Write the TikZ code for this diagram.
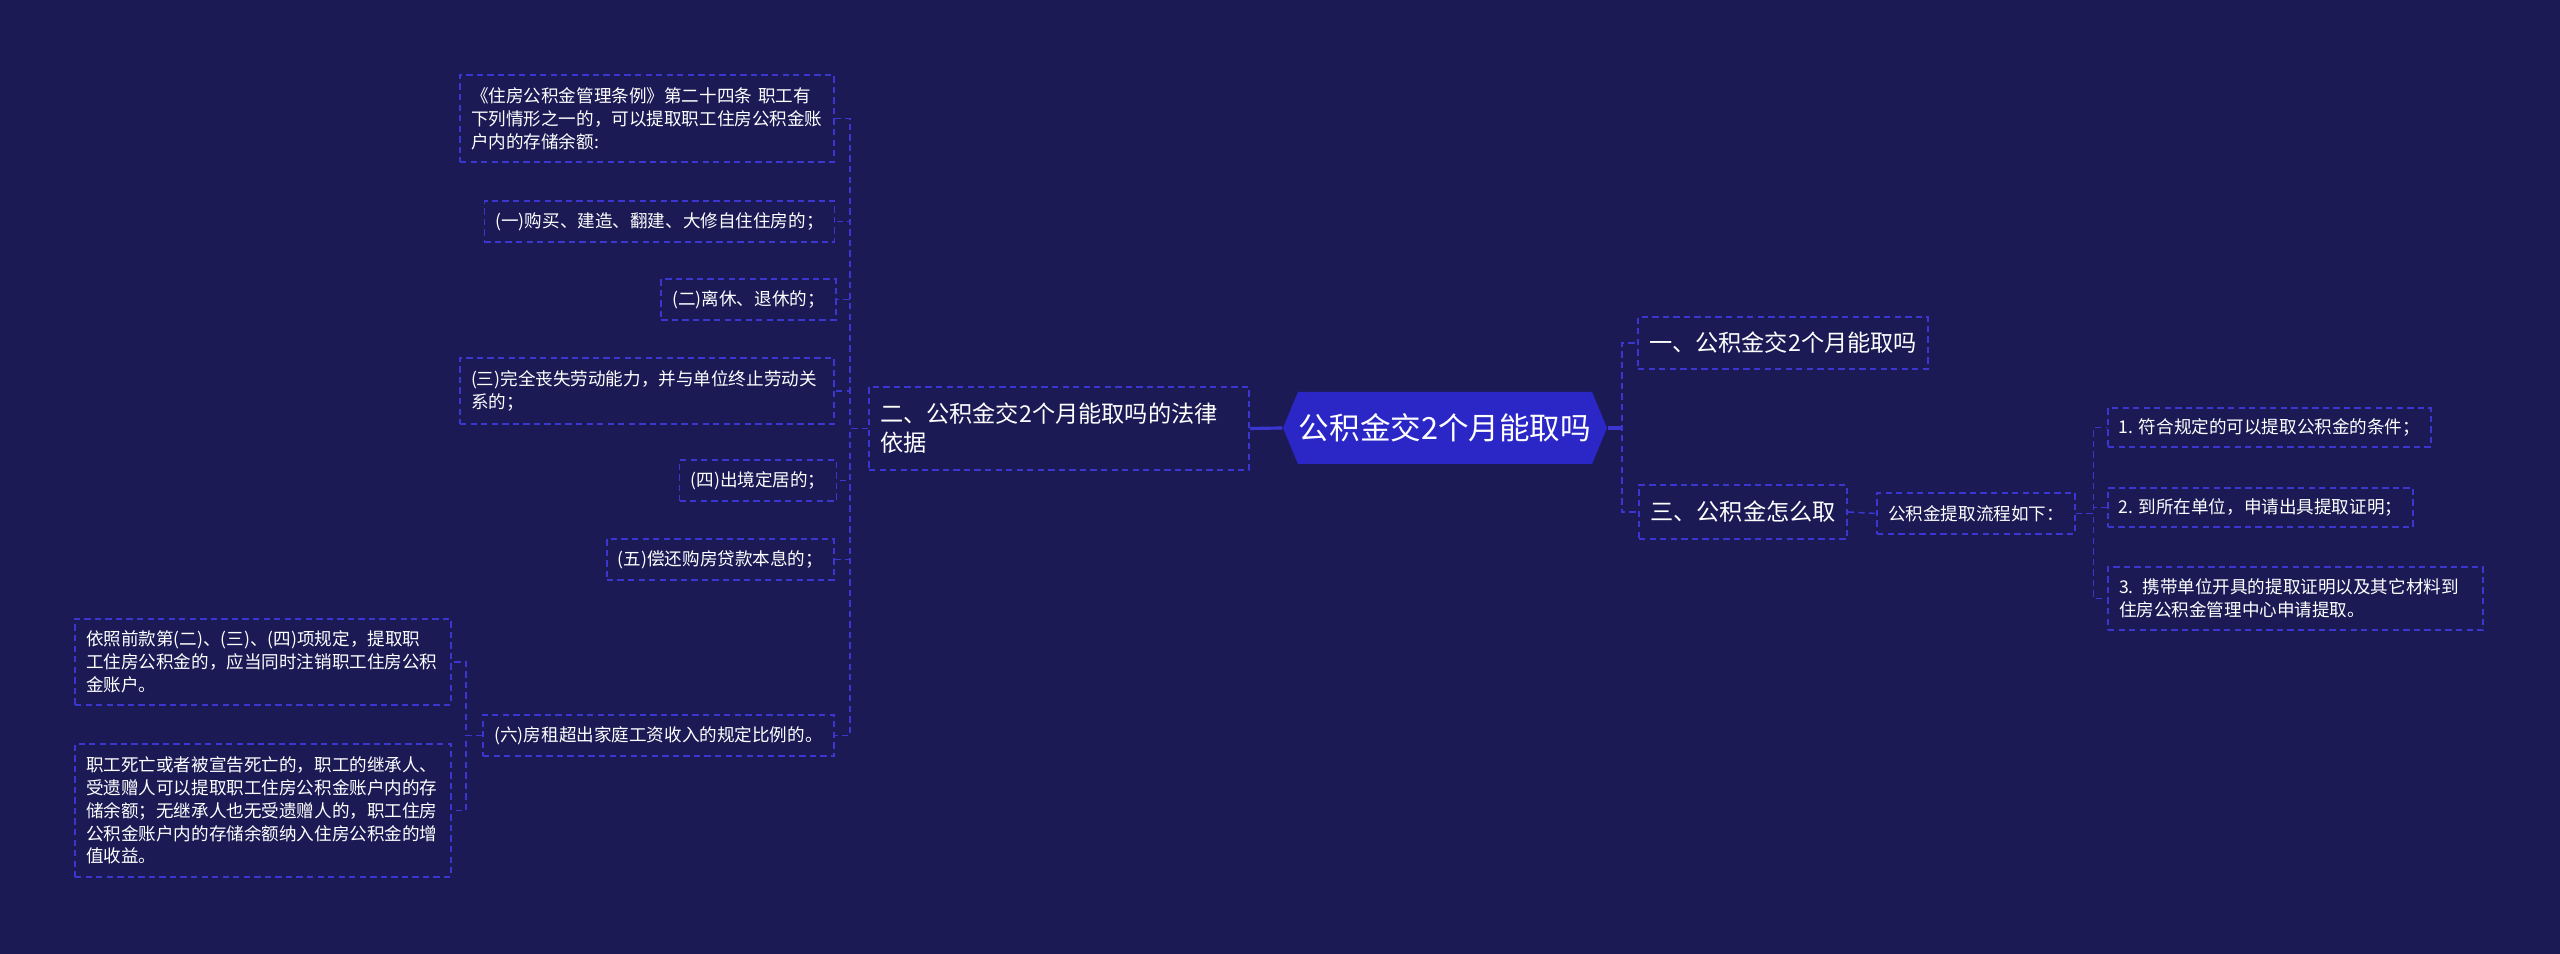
\documentclass[tikz,border=0pt]{standalone}
\usepackage{fontspec}
\setmainfont{Noto Sans CJK SC}
\usepackage{xcolor}
\definecolor{bgNavy}{HTML}{1B1A55}
\definecolor{lineBlue}{HTML}{3A36CF}
\definecolor{rootBlue}{HTML}{2A27C6}
\usetikzlibrary{positioning,arrows.meta,calc,shapes.symbols}
\tikzset{
 leaf/.style={draw=lineBlue, line width=0.45pt, dash pattern=on 1.8pt off 1.2pt, text=white,
  font=\fontsize{5}{6.5}\selectfont, inner xsep=0.11cm, inner ysep=0.05cm, minimum height=0.41cm, align=left},
 branch/.style={leaf, font=\fontsize{6.6}{8.3}\selectfont},
 link/.style={draw=lineBlue, line width=0.45pt, dash pattern=on 1.8pt off 1.2pt},
 trunk/.style={draw=lineBlue, line width=0.9pt}
}
\begin{document}
\begin{tikzpicture}
\useasboundingbox (0,0) rectangle (25.6,-9.54);
\fill[bgNavy] (0,0) rectangle (25.6,-9.54);
% root
\node[shape=signal, signal to=west and east, signal pointer angle=135, fill=rootBlue, text=white,
 font=\fontsize{8.7}{10}\selectfont, minimum width=3.24cm, minimum height=0.72cm, inner sep=0pt] (root) at (14.45,-4.28) {公积金交2个月能取吗};
% main branches
\node[branch, text width=3.58cm, minimum height=0.83cm] (law) at (10.59,-4.285) {二、公积金交2个月能取吗的法律\\依据};
\node[branch, minimum width=2.88cm, minimum height=0.52cm] (q1) at (17.83,-3.43) {一、公积金交2个月能取吗};
\node[branch, minimum width=2.08cm, minimum height=0.54cm] (q3) at (17.43,-5.12) {三、公积金怎么取};
% legal basis
\node[leaf, text width=3.52cm, minimum height=0.87cm] (intro) at (6.47,-1.185) {《住房公积金管理条例》第二十四条 职工有\\下列情形之一的，可以提取职工住房公积金账\\户内的存储余额:};
\node[leaf, minimum width=3.49cm] (c1) at (6.595,-2.215) {(一)购买、建造、翻建、大修自住住房的；};
\node[leaf, minimum width=1.71cm] (c2) at (7.485,-2.995) {(二)离休、退休的；};
\node[leaf, text width=3.52cm, minimum height=0.66cm] (c3) at (6.47,-3.91) {(三)完全丧失劳动能力，并与单位终止劳动关\\系的；};
\node[leaf, minimum width=1.52cm] (c4) at (7.58,-4.805) {(四)出境定居的；};
\node[leaf, minimum width=2.27cm] (c5) at (7.205,-5.595) {(五)偿还购房贷款本息的；};
\node[leaf, minimum width=3.51cm] (c6) at (6.585,-7.355) {(六)房租超出家庭工资收入的规定比例的。};
\node[leaf, text width=3.54cm, minimum height=0.86cm] (d1) at (2.63,-6.62) {依照前款第(二)、(三)、(四)项规定，提取职\\工住房公积金的，应当同时注销职工住房公积\\金账户。};
\node[leaf, text width=3.54cm, minimum height=1.33cm] (d2) at (2.63,-8.105) {职工死亡或者被宣告死亡的，职工的继承人、\\受遗赠人可以提取职工住房公积金账户内的存\\储余额；无继承人也无受遗赠人的，职工住房\\公积金账户内的存储余额纳入住房公积金的增\\值收益。};
% withdrawal steps
\node[leaf, minimum width=1.96cm] (flow) at (19.76,-5.135) {公积金提取流程如下：};
\node[leaf, minimum width=3.23cm, minimum height=0.39cm] (s1) at (22.695,-4.275) {1. 符合规定的可以提取公积金的条件；};
\node[leaf, minimum width=3.05cm, minimum height=0.39cm] (s2) at (22.605,-5.075) {2. 到所在单位，申请出具提取证明；};
\node[leaf, text width=3.53cm, minimum height=0.63cm] (s3) at (22.955,-5.985) {3. 携带单位开具的提取证明以及其它材料到\\住房公积金管理中心申请提取。};
% connectors
\draw[trunk] (root.west) -- (law.east);
\draw[trunk] (root.east) -- ++(0.14,0);
\foreach \n in {q1,q3}
 \draw[link] (root.east) -- ++(0.14,0) |- (\n.west);
\foreach \n in {intro,c1,c2,c3,c4,c5,c6}
 \draw[link] (law.west) -- ++(-0.18,0) |- (\n.east);
\foreach \n in {d1,d2}
 \draw[link] (c6.west) -- ++(-0.16,0) |- (\n.east);
\draw[link] (q3.east) -- (flow.west);
\foreach \n in {s1,s2,s3}
 \draw[link] (flow.east) -- ++(0.18,0) |- (\n.west);
\end{tikzpicture}
\end{document}
